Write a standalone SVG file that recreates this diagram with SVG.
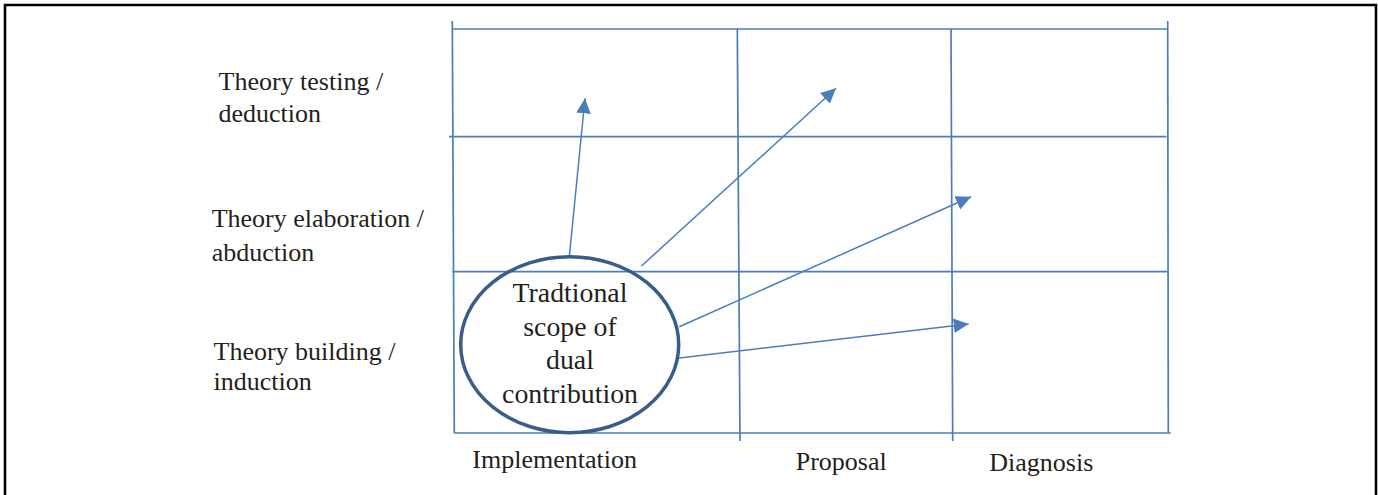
<svg xmlns="http://www.w3.org/2000/svg" width="1378" height="495" viewBox="0 0 1378 495">
<style>
.grid{stroke:#4A7EBB;stroke-width:1.7;fill:none}
.conn{stroke:#4A7EBB;stroke-width:1.5;fill:none;marker-end:url(#ah)}
.lbl{font-family:"Liberation Serif","Times New Roman",serif;font-size:26px;fill:#231F20}
.el{font-family:"Liberation Serif","Times New Roman",serif;font-size:27.8px;fill:#231F20;text-anchor:middle}
</style>
<defs>
<marker id="ah" markerUnits="userSpaceOnUse" markerWidth="16" markerHeight="15" refX="15" refY="7.25" orient="auto">
<path d="M0,0 L15,7.25 L0,14.5 z" fill="#4A7EBB"/>
</marker>
</defs>
<rect width="1378" height="495" fill="#fff"/>
<path d="M5,500 V5 H1376 V500" fill="none" stroke="#000" stroke-width="2.6"/>
<g id="grid">
<line class="grid" x1="452" y1="29" x2="1168" y2="29"/>
<line class="grid" x1="449" y1="136.7" x2="1166.5" y2="136.7"/>
<line class="grid" x1="452.5" y1="271.7" x2="1167.7" y2="271.7"/>
<line class="grid" x1="454" y1="433" x2="1170.7" y2="433"/>
<line class="grid" x1="452.3" y1="21" x2="454.3" y2="433"/>
<line class="grid" x1="737.3" y1="29" x2="740" y2="441"/>
<line class="grid" x1="951" y1="29" x2="952.7" y2="441"/>
<line class="grid" x1="1167.7" y1="21" x2="1168.3" y2="433"/>
</g>
<g id="row-labels">
<text class="lbl" x="218.5" y="90">Theory testing /</text>
<text class="lbl" x="218.5" y="121.5">deduction</text>
<text class="lbl" x="211.7" y="227">Theory elaboration /</text>
<text class="lbl" x="211.7" y="261">abduction</text>
<text class="lbl" x="213.5" y="360">Theory building /</text>
<text class="lbl" x="213.5" y="390">induction</text>
</g>
<g id="col-labels">
<text class="lbl" x="472.3" y="468.3">Implementation</text>
<text class="lbl" x="795.7" y="470">Proposal</text>
<text class="lbl" x="989.3" y="471">Diagnosis</text>
</g>
<g id="connectors">
<line class="conn" x1="569.3" y1="256.7" x2="585" y2="98.3"/>
<line class="conn" x1="641.5" y1="266" x2="836" y2="88.3"/>
<line class="conn" x1="679.3" y1="326.7" x2="971" y2="196.7"/>
<line class="conn" x1="677.3" y1="358.3" x2="968.7" y2="324"/>
</g>
<g id="scope">
<ellipse cx="569.7" cy="344.7" rx="109" ry="88" fill="none" stroke="#385D8A" stroke-width="3.5"/>
<text class="el" x="570" y="301.7">Tradtional</text>
<text class="el" x="570" y="335.5">scope of</text>
<text class="el" x="570" y="369">dual</text>
<text class="el" x="570" y="402.5">contribution</text>
</g>
</svg>
